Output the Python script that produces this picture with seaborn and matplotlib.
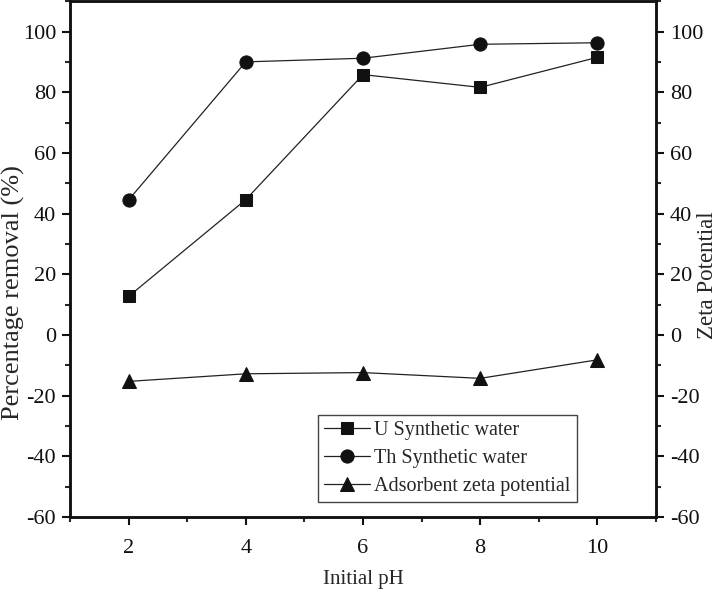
import matplotlib
matplotlib.use("Agg")
import matplotlib.pyplot as plt
from matplotlib.ticker import MultipleLocator
import pandas as pd
import seaborn as sns

ph = [2, 4, 6, 8, 10]
u_removal = [12.7, 44.6, 85.8, 81.6, 91.5]
th_removal = [44.5, 90.0, 91.2, 95.8, 96.3]
zeta = [-15.3, -12.8, -12.4, -14.3, -8.2]

labels = ["U Synthetic water", "Th Synthetic water", "Adsorbent zeta potential"]

df = pd.DataFrame({"pH": ph, "U": u_removal, "Th": th_removal, "Zeta": zeta})

sns.set_style("ticks")
plt.rcParams["font.family"] = ["Liberation Serif", "DejaVu Serif"]
plt.rcParams["axes.unicode_minus"] = False

fig = plt.figure(figsize=(7.23, 5.94), dpi=100)
ax = fig.add_axes([0.0968, 0.1296, 0.8105, 0.8684])
ax2 = ax.twinx()

line_kw = dict(color="#222222", linewidth=0.9, markeredgecolor="#111111", markerfacecolor="#111111")
sns.lineplot(data=df, x="pH", y="U", ax=ax, marker="s", markersize=8.5, label=labels[0], **line_kw)
sns.lineplot(data=df, x="pH", y="Th", ax=ax, marker="o", markersize=9.5, label=labels[1], **line_kw)
sns.lineplot(data=df, x="pH", y="Zeta", ax=ax2, marker="^", markersize=10.5, label=labels[2], **line_kw)

for a in (ax, ax2):
    a.set_xlim(1, 11)
    a.set_ylim(-60, 110)
    a.set_yticks(range(-60, 101, 20))
    a.yaxis.set_minor_locator(MultipleLocator(10))
    a.tick_params(axis="both", which="major", direction="out", length=6, width=1.5,
                  labelsize=16, colors="#111111", pad=4)
    a.tick_params(axis="both", which="minor", direction="out", length=3.5, width=1.5)
    for s in a.spines.values():
        s.set_linewidth(1.8)
        s.set_color("#111111")

ax.set_xticks(ph)
ax.xaxis.set_minor_locator(MultipleLocator(1))
ax.tick_params(axis="x", pad=10)

ax.set_xlabel("Initial pH", fontsize=15)
ax.xaxis.label.set_va("center")
ax.xaxis.set_label_coords(0.5, -0.122)
ax.set_ylabel("Percentage removal (%)", fontsize=19)
ax.yaxis.label.set_va("center")
ax.yaxis.set_label_coords(-0.097, 0.435)
ax2.set_ylabel("Zeta Potential", fontsize=16.5, rotation=90)
ax2.yaxis.label.set_va("center")
ax2.yaxis.set_label_coords(1.088, 0.468)

h1, l1 = ax.get_legend_handles_labels()
h2, l2 = ax2.get_legend_handles_labels()
ax2.get_legend().remove()
leg = ax.legend(h1 + h2, l1 + l2, loc="lower left", bbox_to_anchor=(0.423, 0.029),
                borderaxespad=0, fontsize=14.5, handlelength=2.3, handletextpad=0.2,
                labelspacing=0.45, borderpad=0.3, fancybox=False, framealpha=1)
leg.get_frame().set_edgecolor("#444444")
leg.get_frame().set_linewidth(1.0)

fig.savefig("out.png", dpi=100)
